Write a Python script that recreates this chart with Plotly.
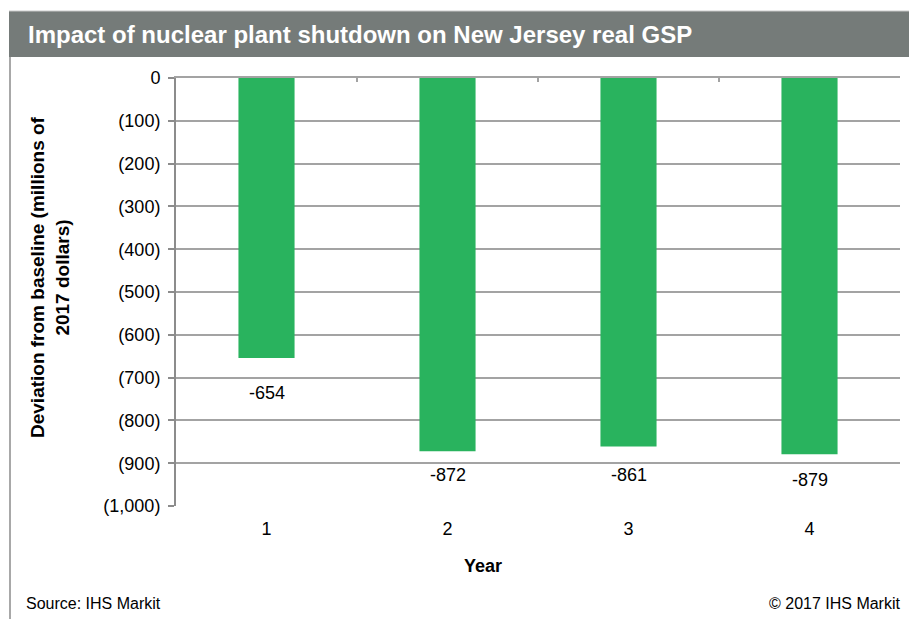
import plotly.graph_objects as go

# ---- data ----
years = ["1", "2", "3", "4"]
deviation = [-654, -872, -861, -879]
label_shift_px = [-35, -24, -28, -26]
ytick_vals = [0, -100, -200, -300, -400, -500, -600, -700, -800, -900, -1000]
ytick_text = ["0", "(100)", "(200)", "(300)", "(400)", "(500)", "(600)",
              "(700)", "(800)", "(900)", "(1,000)"]

title_text = "Impact of nuclear plant shutdown on New Jersey real GSP"
ytitle = "Deviation from baseline (millions of<br>2017 dollars)"
xtitle = "Year"
source = "Source: IHS Markit"
copyright_text = "© 2017 IHS Markit"

W, H = 909, 619
L, R, T, B = 176, 9, 78, 113
pw, ph = W - L - R, H - T - B


def px_x(x):
    return (x - L) / pw


def px_y(y):
    return (H - B - y) / ph


FONT = "Liberation Sans, Arial, sans-serif"
GREEN = "#29b35e"
GRID = "#a3a3a3"

fig = go.Figure()
fig.add_trace(go.Bar(x=years, y=deviation, marker=dict(color=GREEN, line=dict(width=0)),
                     width=0.31, showlegend=False, hoverinfo="skip"))
# dummy trace for the top category axis (ticks at boundaries)
fig.add_trace(go.Scatter(x=years, y=[None] * len(years), xaxis="x2", yaxis="y",
                         showlegend=False, hoverinfo="skip", mode="markers"))

annotations = []
for i, (val, sh) in enumerate(zip(deviation, label_shift_px)):
    annotations.append(dict(x=i, y=val, xref="x", yref="y", text=str(val),
                            showarrow=False, yshift=sh,
                            font=dict(family=FONT, size=18, color="#000000")))

annotations += [
    dict(x=px_x(26), y=px_y(34), xref="paper", yref="paper", text=f"<b>{title_text}</b>",
         showarrow=False, xanchor="left", yanchor="middle",
         font=dict(family=FONT, size=24, color="#ffffff")),
    dict(x=px_x(50), y=px_y(277), xref="paper", yref="paper", text=f"<b>{ytitle}</b>",
         showarrow=False, xanchor="center", yanchor="middle", textangle=-90,
         font=dict(family=FONT, size=19, color="#000000")),
    dict(x=px_x(483), y=px_y(566), xref="paper", yref="paper", text=f"<b>{xtitle}</b>",
         showarrow=False, xanchor="center", yanchor="middle",
         font=dict(family=FONT, size=18, color="#000000")),
    dict(x=px_x(24), y=px_y(603), xref="paper", yref="paper", text=source,
         showarrow=False, xanchor="left", yanchor="middle",
         font=dict(family=FONT, size=16, color="#000000")),
    dict(x=px_x(903), y=px_y(603), xref="paper", yref="paper", text=copyright_text,
         showarrow=False, xanchor="right", yanchor="middle",
         font=dict(family=FONT, size=16, color="#000000")),
]

shapes = [
    dict(type="rect", xref="paper", yref="paper", x0=px_x(9), x1=px_x(909),
         y0=px_y(57), y1=px_y(11), fillcolor="#757b79", line=dict(width=0), layer="below"),
    dict(type="line", xref="paper", yref="paper", x0=px_x(9), x1=px_x(909),
         y0=px_y(11), y1=px_y(11), line=dict(color="#c8c8c8", width=1)),
    dict(type="line", xref="paper", yref="paper", x0=px_x(10), x1=px_x(10),
         y0=px_y(57), y1=px_y(619), line=dict(color="#a8a8a8", width=2)),
]

fig.update_layout(
    width=W, height=H,
    margin=dict(l=L, r=R, t=T, b=B, pad=0),
    paper_bgcolor="#ffffff", plot_bgcolor="#ffffff",
    font=dict(family=FONT, size=18, color="#000000"),
    bargap=0.69,
    xaxis=dict(type="category", categoryorder="array", categoryarray=years,
               range=[-0.5, 3.5], showgrid=False, showline=False, zeroline=False,
               ticks="", tickfont=dict(family=FONT, size=18, color="#000000"),
               ticklabelstandoff=10),
    xaxis2=dict(type="category", categoryorder="array", categoryarray=years,
                range=[-0.5, 3.5], overlaying="x", side="top", anchor="y",
                showgrid=False, showline=True, linecolor=GRID, linewidth=1.5,
                ticks="inside", tickson="boundaries", ticklen=4, tickwidth=1.5,
                tickcolor=GRID, showticklabels=False, zeroline=False),
    yaxis=dict(range=[-1000, 0], tickvals=ytick_vals, ticktext=ytick_text,
               showgrid=True, gridcolor=GRID, gridwidth=1.5, zeroline=False,
               showline=True, linecolor="#8c8c8c", linewidth=2,
               ticks="outside", ticklen=6, tickwidth=1.5, tickcolor="#8c8c8c",
               ticklabelstandoff=4,
               tickfont=dict(family=FONT, size=18, color="#000000")),
    annotations=annotations,
    shapes=shapes,
)

fig.write_html("out.html")
